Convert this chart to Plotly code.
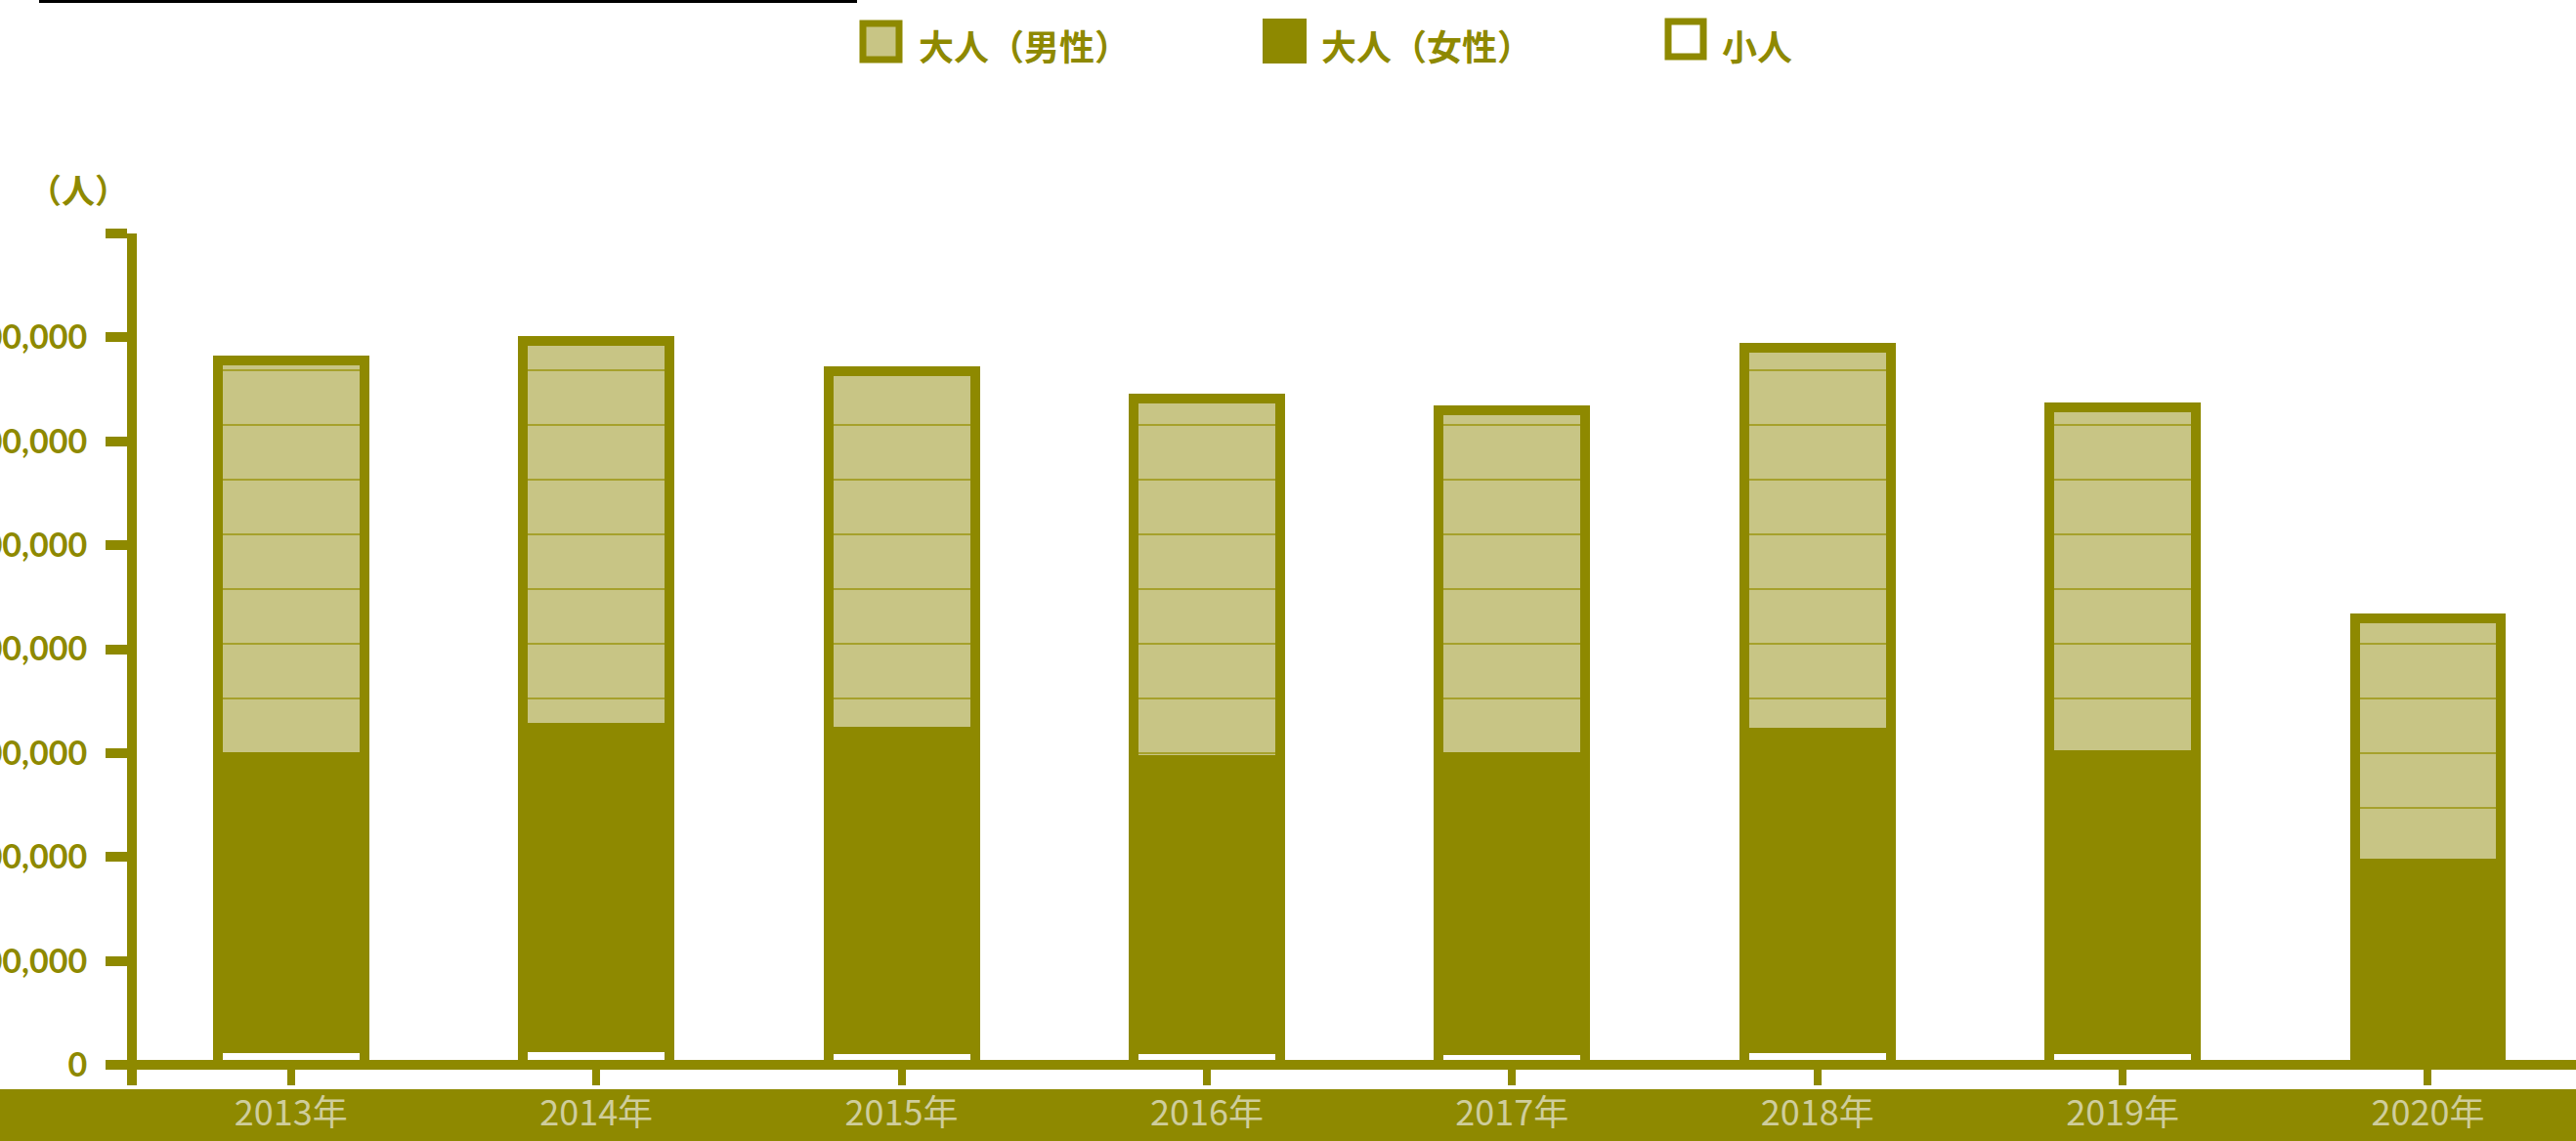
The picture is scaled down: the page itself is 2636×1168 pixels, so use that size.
import plotly.graph_objects as go

# ---------------- data ----------------
years = ["2013年", "2014年", "2015年", "2016年", "2017年", "2018年", "2019年", "2020年"]
male = [382000, 373000, 346000, 348000, 334000, 370000, 335000, 236000]
female = [280000, 307000, 306000, 278000, 282000, 304000, 283000, 191000]
children = [16000, 17000, 15000, 15000, 14000, 16000, 15000, 3000]
series_names = ["大人（男性）", "大人（女性）", "小人"]
ytick_vals = [0, 100000, 200000, 300000, 400000, 500000, 600000, 700000, 800000]
ytick_text = ["0", "100,000", "200,000", "300,000", "400,000", "500,000", "600,000", "700,000", ""]
y_unit = "（人）"

# ---------------- style ----------------
OLIVE = "#8e8900"
LIGHT = "#c8c585"
LINEC = "#a6a12c"
TICKLBL = "#cfcd9c"
W, H = 2636, 1168
L, R, T, B = 140, 0, 239, 57
PW, PH = W - L - R, H - T - B
JP = "Noto Sans CJK JP"


def px2x(px):
    return (px - L) / PW


def py2y(py):
    return (H - B - py) / PH


fig = go.Figure()
fig.add_trace(go.Bar(
    x=years, y=children, name=series_names[2], width=0.48,
    marker=dict(color="white", line=dict(color=OLIVE, width=10)),
    showlegend=False,
))
fig.add_trace(go.Bar(
    x=years, y=female, name=series_names[1], width=0.48,
    marker=dict(color=OLIVE, line=dict(color=OLIVE, width=10)),
    showlegend=False,
))
fig.add_trace(go.Bar(
    x=years, y=male, name=series_names[0], width=0.48,
    marker=dict(color=LIGHT, line=dict(color=OLIVE, width=10),
                pattern=dict(shape="-", size=56, solidity=0.04,
                             fgcolor=LINEC, bgcolor=LIGHT, fillmode="replace")),
    showlegend=False,
))

# y scale: 800000 at py=239, 0 at py=1090
scale = (1090 - 239) / 800000
ymin = -(H - B - 1090) / scale

shapes = [
    # bottom band behind x tick labels
    dict(type="rect", xref="paper", yref="paper",
         x0=px2x(-10), x1=px2x(W + 10), y0=py2y(1115), y1=py2y(H + 10),
         fillcolor=OLIVE, line=dict(width=0), layer="below"),
    # black line at top-left
    dict(type="rect", xref="paper", yref="paper",
         x0=px2x(40), x1=px2x(877), y0=py2y(0), y1=py2y(3),
         fillcolor="black", line=dict(width=0)),
    # custom legend swatches
    dict(type="rect", xref="paper", yref="paper",
         x0=px2x(883), x1=px2x(920), y0=py2y(24), y1=py2y(61),
         fillcolor=LIGHT, line=dict(color=OLIVE, width=7)),
    dict(type="rect", xref="paper", yref="paper",
         x0=px2x(1293), x1=px2x(1336), y0=py2y(20), y1=py2y(64),
         fillcolor=OLIVE, line=dict(color=OLIVE, width=2)),
    dict(type="rect", xref="paper", yref="paper",
         x0=px2x(1707), x1=px2x(1743), y0=py2y(22), y1=py2y(58),
         fillcolor="white", line=dict(color=OLIVE, width=7)),
]

legend_font = dict(family=JP, size=36, color=OLIVE, weight="bold")
annotations = [
    dict(text=series_names[0], x=px2x(938), y=py2y(46), xref="paper", yref="paper",
         xanchor="left", yanchor="middle", showarrow=False, font=legend_font),
    dict(text=series_names[1], x=px2x(1350), y=py2y(46), xref="paper", yref="paper",
         xanchor="left", yanchor="middle", showarrow=False, font=legend_font),
    dict(text=series_names[2], x=px2x(1760), y=py2y(46), xref="paper", yref="paper",
         xanchor="left", yanchor="middle", showarrow=False, font=legend_font),
    dict(text=y_unit, x=px2x(80), y=py2y(193), xref="paper", yref="paper",
         xanchor="center", yanchor="middle", showarrow=False,
         font=dict(family=JP, size=34, color=OLIVE, weight="bold")),
]

fig.update_layout(
    width=W, height=H,
    margin=dict(l=L, r=R, t=T, b=B, pad=0),
    barmode="stack",
    paper_bgcolor="white", plot_bgcolor="white",
    showlegend=False,
    shapes=shapes,
    annotations=annotations,
    xaxis=dict(
        range=[-0.505, 7.485], showgrid=False, showline=False, zeroline=False,
        ticks="inside", ticklen=22, tickwidth=8, tickcolor=OLIVE,
        tickfont=dict(family="Noto Sans CJK JP", size=36, color=TICKLBL),
        ticklabelstandoff=4, automargin=False,
    ),
    yaxis=dict(
        range=[ymin, 800000], showgrid=False,
        showline=True, linecolor=OLIVE, linewidth=10,
        zeroline=True, zerolinecolor=OLIVE, zerolinewidth=10,
        tickmode="array", tickvals=ytick_vals, ticktext=ytick_text,
        ticks="outside", ticklen=22, tickwidth=10, tickcolor=OLIVE,
        tickfont=dict(family="Lato", size=34, color=OLIVE, weight="bold"),
        ticklabelstandoff=12, automargin=False,
    ),
)

fig.write_html(
    "out.html",
    config={"displayModeBar": False},
    post_script="document.body.style.margin='0';document.body.style.overflow='hidden';",
)
